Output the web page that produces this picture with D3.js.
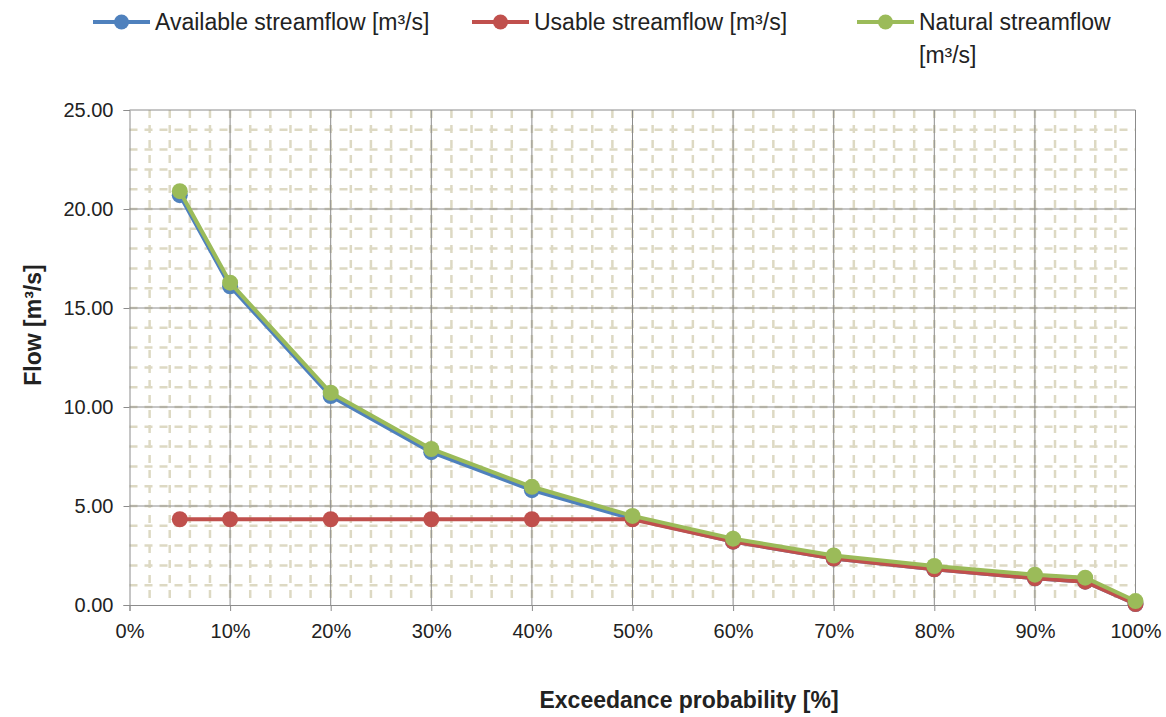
<!DOCTYPE html>
<html>
<head>
<meta charset="utf-8">
<title>Flow duration curve</title>
<style>
  body { margin: 0; background: #fff; }
  text { font-family: "Liberation Sans", Arial, sans-serif; fill: #222; }
</style>
</head>
<body>
<script src="https://d3js.org/d3.v7.min.js"></script>
<script>
// data
const probability = [5, 10, 20, 30, 40, 50, 60, 70, 80, 90, 95, 100];
const available = [20.70, 16.10, 10.55, 7.72, 5.80, 4.35, 3.20, 2.35, 1.80, 1.35, 1.18, 0.05];
const usable = [4.33, 4.33, 4.33, 4.33, 4.33, 4.33, 3.20, 2.35, 1.80, 1.35, 1.18, 0.05];
const natural = [20.90, 16.28, 10.72, 7.88, 5.97, 4.50, 3.35, 2.50, 1.97, 1.53, 1.38, 0.20];
const seriesNames = ["Available streamflow [m³/s]", "Usable streamflow [m³/s]", "Natural streamflow"];
const seriesColors = ["#4F81BD", "#C0504D", "#9BBB59"];
const xTicks = [0, 10, 20, 30, 40, 50, 60, 70, 80, 90, 100];
const yTicks = [0, 5, 10, 15, 20, 25];

const W = 1166, H = 717;
const plotL = 129.5, plotR = 1135.5, plotT = 110, plotB = 605;

const svg = d3.select('body').append('svg').attr('width', W).attr('height', H);

const x = d3.scaleLinear().domain([0, 100]).range([plotL, plotR]);
const y = d3.scaleLinear().domain([0, 25]).range([plotB, plotT]);

// minor dashed grid
svg.append('g').selectAll('line').data(d3.range(2, 100, 2)).enter()
  .append('line')
  .attr('x1', d => x(d)).attr('x2', d => x(d))
  .attr('y1', plotT).attr('y2', plotB)
  .attr('stroke', '#DDD9C3').attr('stroke-width', 2.5)
  .attr('stroke-dasharray', '8,7');
svg.append('g').selectAll('line').data(d3.range(1, 25, 1)).enter()
  .append('line')
  .attr('x1', plotL).attr('x2', plotR)
  .attr('y1', d => y(d)).attr('y2', d => y(d))
  .attr('stroke', '#DDD9C3').attr('stroke-width', 2.5)
  .attr('stroke-dasharray', '8,7');

// major grid
svg.append('g').selectAll('line').data(xTicks.slice(1)).enter()
  .append('line')
  .attr('x1', d => x(d)).attr('x2', d => x(d))
  .attr('y1', plotT).attr('y2', plotB)
  .attr('stroke', '#8c8c8c').attr('stroke-width', 1);
svg.append('g').selectAll('line').data(yTicks.slice(1)).enter()
  .append('line')
  .attr('x1', plotL).attr('x2', plotR)
  .attr('y1', d => y(d)).attr('y2', d => y(d))
  .attr('stroke', '#8c8c8c').attr('stroke-width', 1);

// axes
const yAxis = svg.append('g').attr('transform', 'translate(' + plotL + ',0)')
  .call(d3.axisLeft(y).tickValues(yTicks).tickFormat(d3.format('.2f')).tickSize(6).tickPadding(10));
const xAxis = svg.append('g').attr('transform', 'translate(0,' + plotB + ')')
  .call(d3.axisBottom(x).tickValues(xTicks).tickFormat(d => d + '%').tickSize(6).tickPadding(13));
[yAxis, xAxis].forEach(a => {
  a.select('.domain').attr('stroke', '#8c8c8c');
  a.selectAll('.tick line').attr('stroke', '#8c8c8c');
  a.selectAll('.tick text').attr('font-size', 20).attr('fill', '#222')
    .attr('font-family', '"Liberation Sans", Arial, sans-serif');
});

// series
const allSeries = [available, usable, natural];
const line = d3.line().x((d, i) => x(probability[i])).y(d => y(d));
allSeries.forEach((s, k) => {
  const g = svg.append('g');
  g.append('path').datum(s).attr('d', line)
    .attr('fill', 'none').attr('stroke', seriesColors[k]).attr('stroke-width', 4)
    .attr('stroke-linejoin', 'round');
  g.selectAll('circle').data(s).enter().append('circle')
    .attr('cx', (d, i) => x(probability[i])).attr('cy', d => y(d))
    .attr('r', 8).attr('fill', seriesColors[k]);
});

// axis titles
svg.append('text')
  .attr('transform', 'translate(41,' + 325 + ') rotate(-90)')
  .attr('text-anchor', 'middle').attr('font-size', 23).attr('font-weight', 'bold')
  .text('Flow [m³/s]');
svg.append('text')
  .attr('x', 689).attr('y', 708)
  .attr('text-anchor', 'middle').attr('font-size', 23).attr('font-weight', 'bold')
  .text('Exceedance probability [%]');

// legend
const legendX = [93, 472, 857];
const legend = svg.append('g');
seriesNames.forEach((name, k) => {
  const lg = legend.append('g').attr('transform', 'translate(' + legendX[k] + ',22)');
  lg.append('line').attr('x1', 0).attr('x2', 57).attr('y1', 0).attr('y2', 0)
    .attr('stroke', seriesColors[k]).attr('stroke-width', 4);
  lg.append('circle').attr('cx', 28.5).attr('cy', 0).attr('r', 7.5).attr('fill', seriesColors[k]);
  lg.append('text').attr('x', 62).attr('y', 8).attr('font-size', 23).text(name);
  if (k === 2) {
    lg.append('text').attr('x', 62).attr('y', 41).attr('font-size', 23).text('[m³/s]');
  }
});
</script>
</body>
</html>
